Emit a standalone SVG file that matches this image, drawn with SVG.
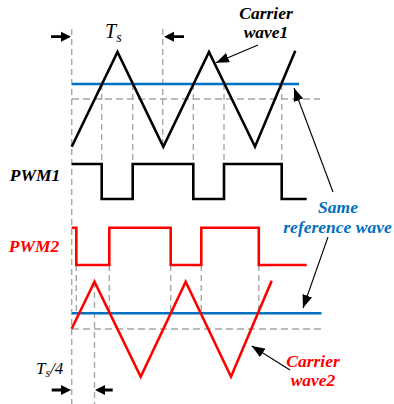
<svg xmlns="http://www.w3.org/2000/svg" width="394" height="404" viewBox="0 0 394 404">
<style>
.dash{stroke:#A6A6A6;stroke-width:1.4;stroke-dasharray:6,4;fill:none}
.hdash{stroke:#A6A6A6;stroke-width:1.4;stroke-dasharray:7,4;fill:none}
.wave{fill:none;stroke-width:2.6;stroke-linejoin:miter}
.blk{stroke:#000}
.red{stroke:#FF0000}
.ref{stroke:#0070C0;stroke-width:2.6;fill:none}
.lbl{font-family:"Liberation Serif","Times New Roman",serif;font-weight:bold;font-style:italic;font-size:17.5px;text-anchor:middle}
.it{font-family:"Liberation Serif","Times New Roman",serif;font-style:italic}
.conn{stroke:#000;stroke-width:1.1;fill:none;marker-end:url(#ah)}
</style>
<defs>
<marker id="ah" markerUnits="userSpaceOnUse" markerWidth="14" markerHeight="10" refX="13" refY="5" orient="auto">
<path d="M0,0 L13,5 L0,10 Z" fill="#000"/>
</marker>
</defs>
<rect width="394" height="404" fill="#fff"/>
<g id="grid">
<path class="dash" d="M71.7,29V404 M162.7,29V147 M101.7,84V164 M132.7,84V164 M193.3,84V164 M224,84V164 M281.7,84V164 M76.3,265V313 M109.3,265V313 M170.7,265V313 M201.3,265V313 M258.8,265V313 M94.5,282V404"/>
<path class="hdash" d="M72,99H320 M72,329H321"/>
</g>
<g id="reference1"><path class="ref" d="M72,84H299"/></g>
<g id="reference2"><path class="ref" d="M72,313.3H321.5"/></g>
<g id="carrier1"><polyline class="wave blk" points="71.7,146.7 117.5,52 163.3,146.7 209,52 255,146.7 295.3,50.7"/></g>
<g id="carrier2"><polyline class="wave red" points="71.7,328.7 94.5,281.7 140.7,376.7 185.7,281.7 231,376.7 271.7,280.7"/></g>
<g id="pwm1"><path class="wave blk" d="M71.7,164H101.7V199H132.7V164H193.3V199H224V164H281.7V199H306.7"/>
<text class="lbl" x="35" y="180.5" fill="#000">PWM1</text></g>
<g id="pwm2"><path class="wave red" d="M71.7,227.7H76.3V265H109.3V227.7H170.7V265H201.3V227.7H258.8V265H306.7"/>
<text class="lbl" x="34" y="251.7" fill="#FF0000">PWM2</text></g>
<g id="ts">
<path d="M51,35.3H61V31.7L71,36.7L61,41.7V38.1H51Z" fill="#000"/>
<path d="M184,35.3H174V31.7L164,36.7L174,41.7V38.1H184Z" fill="#000"/>
<text class="it" x="105" y="38" font-size="20">T<tspan font-size="14" dy="4">s</tspan></text>
</g>
<g id="ts4">
<path d="M51.7,388.6H61V385L71,390L61,395V391.4H51.7Z" fill="#000"/>
<path d="M112.7,388.6H105V385L95,390L105,395V391.4H112.7Z" fill="#000"/>
<text class="it" x="36" y="374" font-size="17">T<tspan font-size="12" dy="3">s</tspan><tspan dy="-3">/4</tspan></text>
</g>
<g id="label-carrier1"><text class="lbl" fill="#000"><tspan x="266" y="19">Carrier</tspan><tspan x="266" y="38">wave1</tspan></text></g>
<g id="label-ref"><text class="lbl" fill="#0070C0"><tspan x="338" y="212.7">Same</tspan><tspan x="337.5" y="233.3">reference wave</tspan></text></g>
<g id="label-carrier2"><text class="lbl" fill="#FF0000"><tspan x="313" y="366.7">Carrier</tspan><tspan x="313" y="385.7">wave2</tspan></text></g>
<g id="connectors">
<path class="conn" d="M258,45L216,62.7"/>
<path class="conn" d="M333,192L294,88"/>
<path class="conn" d="M328,237L303,308"/>
<path class="conn" d="M290,370L251.7,346"/>
</g>
</svg>
